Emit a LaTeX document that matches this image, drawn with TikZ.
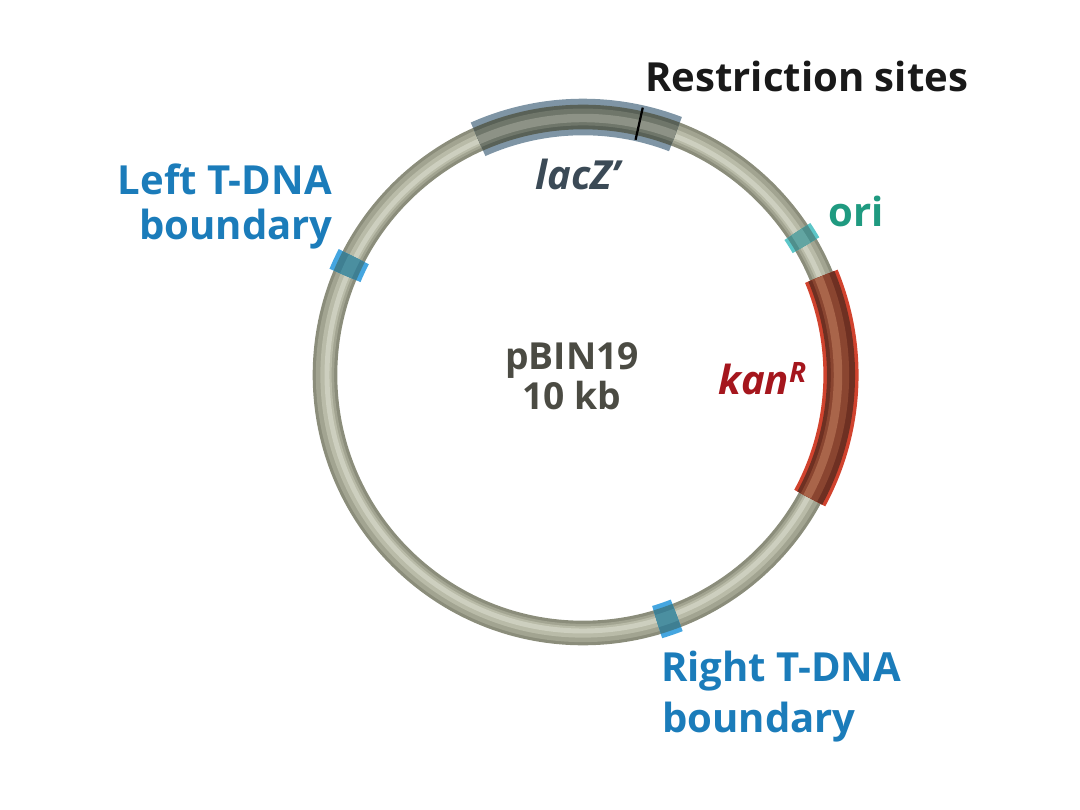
\documentclass[tikz,border=0pt]{standalone}
\usepackage{fontspec}
\setmainfont{Open Sans}
\usepackage{xcolor}
\usetikzlibrary{positioning,calc}

\definecolor{ringA}{HTML}{8B8D7B}
\definecolor{ringB}{HTML}{A2A491}
\definecolor{ringC}{HTML}{B9BBA8}
\definecolor{ringD}{HTML}{CDCFBF}
\definecolor{laczA}{HTML}{7F95A5}
\definecolor{laczB}{HTML}{596157}
\definecolor{laczC}{HTML}{6F766A}
\definecolor{laczD}{HTML}{8D9286}
\definecolor{oriA}{HTML}{5CC6C8}
\definecolor{oriB}{HTML}{4F8F8C}
\definecolor{oriC}{HTML}{62A5A2}
\definecolor{kanA}{HTML}{D1432E}
\definecolor{kanB}{HTML}{6E3022}
\definecolor{kanC}{HTML}{8A4530}
\definecolor{kanD}{HTML}{A9654A}
\definecolor{bordA}{HTML}{45A6E0}
\definecolor{bordB}{HTML}{3F7F92}
\definecolor{bordC}{HTML}{4B8FA0}
\definecolor{tdnablue}{HTML}{1B7CBA}
\definecolor{oriteal}{HTML}{1F9A80}
\definecolor{kanred}{HTML}{A5161D}
\definecolor{laczslate}{HTML}{3B4A56}
\definecolor{plasmidgray}{HTML}{4B4B43}

% arc piece of the plasmid: start, end, radius, width (pt), colour
\newcommand{\plasarc}[5]{\draw[line width=#4pt, #5] (ctr) ++(#1:#3) arc[start angle=#1, end angle=#2, radius=#3];}

\begin{document}
\begin{tikzpicture}[x=0.025cm, y=0.025cm,
  lbl/.style={font=\bfseries\fontsize{28.5}{34}\selectfont, inner sep=0pt},
  ilbl/.style={font=\bfseries\itshape\fontsize{28.5}{34}\selectfont, inner sep=0pt},
  mid/.style={font=\bfseries\fontsize{26.5}{32}\selectfont, inner sep=0pt, text=plasmidgray}
]
\useasboundingbox (0,0) rectangle (1080,810);
\coordinate (ctr) at (583,435);

% backbone
\draw[line width=17.5pt, ringA] (ctr) circle[radius=258];
\draw[line width=13pt, ringB] (ctr) circle[radius=258];
\draw[line width=8pt, ringC] (ctr) circle[radius=257];
\draw[line width=3.5pt, ringD] (ctr) circle[radius=256];

% lacZ'
\plasarc{69}{114}{258}{26}{laczA}
\plasarc{69}{114}{258}{17.5}{laczB}
\plasarc{69}{114}{258}{12}{laczC}
\plasarc{69}{114}{257}{6}{laczD}

% ori
\plasarc{30.2}{33.8}{258}{22}{oriA}
\plasarc{30.2}{33.8}{258}{17}{oriB}
\plasarc{30.2}{33.8}{257}{9}{oriC}

% kanR
\plasarc{-28.5}{22.5}{258}{25}{kanA}
\plasarc{-28.5}{22.5}{258}{20}{kanB}
\plasarc{-28.5}{22.5}{257}{13}{kanC}
\plasarc{-28.5}{22.5}{255}{6}{kanD}

% T-DNA borders
\foreach \mid in {155,-71}{
  \plasarc{\mid-2.3}{\mid+2.3}{258}{24}{bordA}
  \plasarc{\mid-2.3}{\mid+2.3}{258}{17.5}{bordB}
  \plasarc{\mid-2.3}{\mid+2.3}{257}{9}{bordC}
}

% restriction sites
\coordinate (cutin) at ($(ctr)+(77.4:241)$);
\coordinate (cutout) at ($(ctr)+(77.4:274)$);
\draw[line width=1.6pt, black] (cutin) -- (cutout);

% labels
\node[lbl, anchor=base west, text=black!90] (rsites) at (645,718) {Restriction sites};
\node[ilbl, anchor=base, text=laczslate] (lacz) at (578,620) {lacZ’};
\node[lbl, anchor=base west, text=oriteal] (ori) at (828,583) {ori};
\node[ilbl, anchor=base west, text=kanred] (kan) at (718,415) {kan\textsuperscript{R}};
\node[mid, anchor=base] (pname) at (572,440) {pBIN19};
\node[mid, anchor=base] (psize) at (572,400) {10 kb};
\node[lbl, anchor=base east, text=tdnablue] (lbordA) at (332,615) {Left T-DNA};
\node[lbl, anchor=base east, text=tdnablue] (lbordB) at (333,570) {boundary};
\node[lbl, anchor=base west, text=tdnablue] (rbordA) at (661,128) {Right T-DNA};
\node[lbl, anchor=base west, text=tdnablue] (rbordB) at (662,77) {boundary};
\end{tikzpicture}
\end{document}
